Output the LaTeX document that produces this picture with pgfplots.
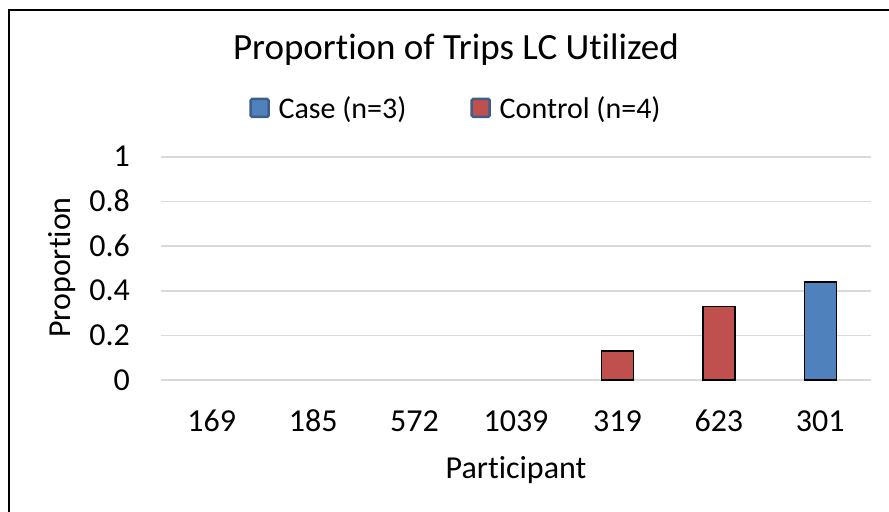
\documentclass[border=0pt]{standalone}
\usepackage{fontspec}
\setmainfont{Carlito}[Ligatures=NoCommon]
\usepackage{pgfplots}
\pgfplotsset{compat=1.18}

\definecolor{casecol}{HTML}{4F81BD}
\definecolor{ctrlcol}{HTML}{C0504D}
\definecolor{gridcol}{HTML}{D9D9D9}
\definecolor{legborder}{HTML}{3B5E8C}

\begin{document}
\begin{tikzpicture}
\useasboundingbox (-161bp,-132bp) rectangle (728bp,380bp);
\draw[black, line width=1.5bp] (-152bp,-140bp) -- (-152bp,370bp) -- (740bp,370bp);
\begin{axis}[
    at={(0,0)}, anchor=south west,
    scale only axis,
    width=710bp, height=223bp,
    xmin=-0.5, xmax=6.5,
    ymin=0, ymax=1,
    xtick={0,1,2,3,4,5,6},
    xticklabels={169,185,572,1039,319,623,301},
    ytick={0,0.2,0.4,0.6,0.8,1},
    /pgf/number format/assume math mode=true,
    font=\fontsize{32bp}{36bp}\selectfont,
    major tick length=0pt,
    axis line style={draw=none},
    ymajorgrids,
    grid style={gridcol, line width=1.5bp},
    xticklabel style={anchor=base, yshift=-51bp, inner sep=0pt},
    yticklabel style={anchor=base east, xshift=-31bp, yshift=-10bp, inner sep=0pt},
    xlabel={Participant},
    xlabel style={at={(axis description cs:0.5,0)}, anchor=base, yshift=-98bp, inner sep=0pt},
    ylabel={Proportion},
    ylabel style={at={(axis description cs:-0.1387,0.5045)}, anchor=center, inner sep=0pt},
    title={Proportion of Trips LC Utilized},
    title style={at={(axis description cs:0.4155,1.4126)}, anchor=base, inner sep=0pt,
        font=\fontsize{37bp}{42bp}\selectfont},
    ybar, bar width=32bp, bar shift=0pt,
    y filter/.expression={y==0 ? nan : y},
    unbounded coords=discard,
    legend columns=2,
    legend style={draw=none, fill=none, at={(axis description cs:0.4155,1.22)}, anchor=center,
        font=\fontsize{30bp}{34bp}\selectfont,
        /tikz/every even column/.append style={column sep=62bp}},
    legend image code/.code={%
        \draw[#1, draw=legborder, line width=2.5bp, rounded corners=1.5bp] (0bp,-9bp) rectangle (18bp,9bp);
        \path[draw=none, fill=none] (0bp,0bp) -- (26bp,0bp);},
]
\addplot[fill=casecol, draw=black, line width=1.5bp] coordinates {
    (0,0) (1,0) (6,0.44)
};
\addplot[fill=ctrlcol, draw=black, line width=1.5bp] coordinates {
    (2,0) (3,0) (4,0.13) (5,0.33)
};
\legend{Case (n=3), Control (n=4)}
\end{axis}
\end{tikzpicture}
\end{document}
